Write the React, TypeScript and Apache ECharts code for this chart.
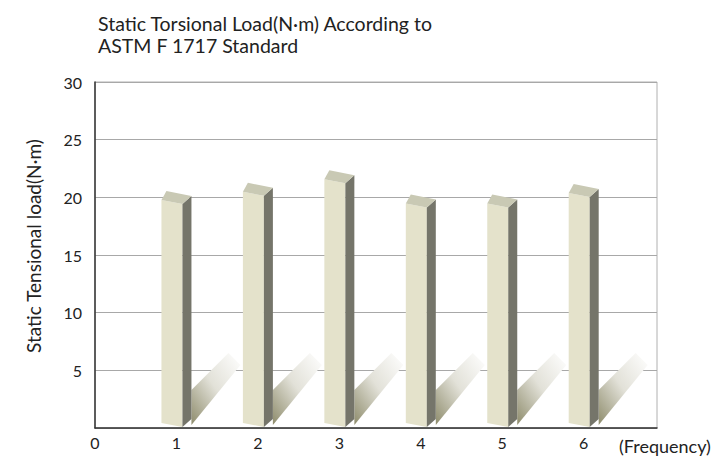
import React, { useEffect, useRef } from "react";
import * as echarts from "echarts";

const categories = [1, 2, 3, 4, 5, 6];
const loadValues = [19.6, 20.3, 21.4, 19.3, 19.3, 20.2];
const xTicks = [0, 1, 2, 3, 4, 5, 6];
const yTicks = [0, 5, 10, 15, 20, 25, 30];
const titleLines = ["Static Torsional Load(N\u00b7m) According to", "ASTM F 1717 Standard"];
const yName = "Static Tensional load(N\u00b7m)";
const xName = "(Frequency)";

const FONT = "Lato, 'Open Sans', sans-serif";

export default function App() {
  const ref = useRef<HTMLDivElement>(null);
  useEffect(() => {
    if (!ref.current) return;
    const chart = echarts.init(ref.current, undefined, { renderer: "svg" });
    const data = categories.map((c, i) => [c, loadValues[i]]);
    const option: any = {
      animation: false,
      backgroundColor: "#ffffff",
      title: {
        text: titleLines.join("\n"),
        left: 93,
        top: 7,
        textStyle: { fontFamily: FONT, fontSize: 19.5, fontWeight: "normal", color: "#222", lineHeight: 22 },
      },
      grid: { left: 95, right: 66, top: 82, bottom: 32, show: true, borderColor: "#b0b0b0", borderWidth: 1 },
      xAxis: {
        type: "value",
        min: 0,
        max: 6.9,
        interval: 1,
        splitLine: { show: false },
        axisTick: { show: false },
        axisLine: { show: true, lineStyle: { color: "#333", width: 1.5 } },
        axisLabel: {
          fontFamily: FONT,
          fontSize: 16,
          color: "#222",
          margin: 6,
          showMaxLabel: false,
          formatter: (v: number) => (xTicks.indexOf(v) >= 0 ? String(v) : ""),
        },
      },
      yAxis: {
        type: "value",
        min: 0,
        max: 30,
        interval: 5,
        axisTick: { show: false },
        axisLine: { show: true, lineStyle: { color: "#333", width: 1.5 } },
        splitLine: { show: true, lineStyle: { color: "#a8a8a8", width: 1 } },
        axisLabel: {
          fontFamily: FONT,
          fontSize: 16,
          color: "#222",
          margin: 13,
          formatter: (v: number) => (v === 0 || yTicks.indexOf(v) < 0 ? "" : String(v)),
        },
      },
      graphic: [
        {
          type: "text",
          x: 33,
          y: 246,
          rotation: Math.PI / 2,
          style: {
            text: yName,
            fontFamily: FONT,
            fontSize: 19,
            fill: "#222",
            align: "center",
            verticalAlign: "middle",
          },
        },
        {
          type: "text",
          x: 619,
          y: 446,
          style: { text: xName, fontFamily: FONT, fontSize: 18, fill: "#222", align: "left", verticalAlign: "middle" },
        },
      ],
      series: [
        {
          type: "custom",
          data,
          encode: { x: 0, y: 1 },
          renderItem: (params: any, api: any) => {
            const x = api.value(0);
            const v = api.value(1);
            const top = api.coord([x, v]);
            const base = api.coord([x, 0]);
            const c = top[0];
            const yv = top[1];
            const yb = base[1];
            const shadowFill = new echarts.graphic.LinearGradient(0, 1, 1, 0, [
              { offset: 0, color: "#8e8c6c" },
              { offset: 0.5, color: "#e2e1d8" },
              { offset: 1, color: "#ffffff" },
            ]);
            return {
              type: "group",
              children: [
                {
                  type: "polygon",
                  shape: { points: [[c + 15, yb - 3], [c + 15, yb - 38], [c + 52, yb - 75], [c + 64, yb - 63]] },
                  style: { fill: shadowFill },
                },
                {
                  type: "polygon",
                  shape: { points: [[c - 15, yv - 2], [c + 6, yv + 2], [c + 6, yb - 1], [c - 15, yb - 5]] },
                  style: { fill: "#e4e2cb" },
                },
                {
                  type: "polygon",
                  shape: { points: [[c + 6, yv + 2], [c + 15, yv - 6], [c + 15, yb - 9], [c + 6, yb - 1]] },
                  style: { fill: "#75756a" },
                },
                {
                  type: "polygon",
                  shape: { points: [[c - 15, yv - 2], [c + 6, yv + 2], [c + 15, yv - 6], [c - 10, yv - 11]] },
                  style: { fill: "#c9c9b4" },
                },
              ],
            };
          },
        },
      ],
    };
    chart.setOption(option);
    return () => chart.dispose();
  }, []);
  return <div ref={ref} style={{ width: 723, height: 460, marginLeft: -8, marginTop: -8 }} />;
}
